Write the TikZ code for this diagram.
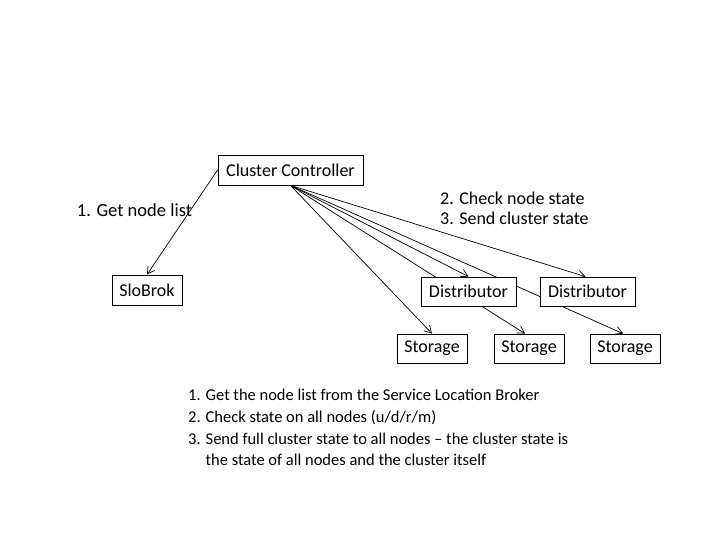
\documentclass[tikz,border=0pt]{standalone}
\usepackage{fontspec}
\setmainfont{Carlito}
\usetikzlibrary{arrows.meta,backgrounds}
\begin{document}
\begin{tikzpicture}[x=1pt,y=-1pt,
  box/.style={draw,line width=0.8pt,fill=white,inner sep=0pt,font=\fontsize{18}{21}\selectfont},
  arr/.style={line width=0.7pt,-{Straight Barb[length=7pt,width=8pt]}},
  lbl/.style={font=\fontsize{18}{21}\selectfont,inner sep=0pt}]
\useasboundingbox (0,0) rectangle (720,540);
\node[box,minimum width=145pt,minimum height=30pt] (cc) at (290.5,170) {Cluster Controller};
\node[box,minimum width=70pt,minimum height=30pt] (sb) at (147,290) {SloBrok};
\node[box,minimum width=95pt,minimum height=29pt] (d1) at (468.5,291.5) {Distributor};
\node[box,minimum width=95pt,minimum height=29pt] (d2) at (587.5,291.5) {Distributor};
\node[box,minimum width=70pt,minimum height=29pt] (s1) at (432,348.5) {Storage};
\node[box,minimum width=70pt,minimum height=29pt] (s2) at (529,348.5) {Storage};
\node[box,minimum width=70pt,minimum height=29pt] (s3) at (625,348.5) {Storage};
\begin{scope}[on background layer]
\draw[arr] (cc.west) -- (sb.north);
\draw[arr] (cc.south) -- (s1.north);
\draw[arr] (cc.south) -- (d1.north);
\draw[arr] (cc.south) -- ([xshift=-4pt]s2.north);
\draw[arr] (cc.south) -- ([xshift=-2pt]s3.north);
\draw[arr] (cc.south) -- ([xshift=-2pt]d2.north);
\end{scope}
\node[lbl,font=\fontsize{18.5}{21}\selectfont] (l1) at (134.5,210) {1. Get node list};
\node[lbl,anchor=west,align=left] (l2) at (440,208) {2. Check node state\\[-1pt]3. Send cluster state};
\node[lbl,anchor=north west,align=left,font=\fontsize{16.5}{21.7}\selectfont] (notes) at (188,389)
 {1. Get the node list from the Service Location Broker\\
  2. Check state on all nodes (u/d/r/m)\\
  3. Send full cluster state to all nodes -- the cluster state is\\
  \hphantom{3. }the state of all nodes and the cluster itself};
\end{tikzpicture}
\end{document}
